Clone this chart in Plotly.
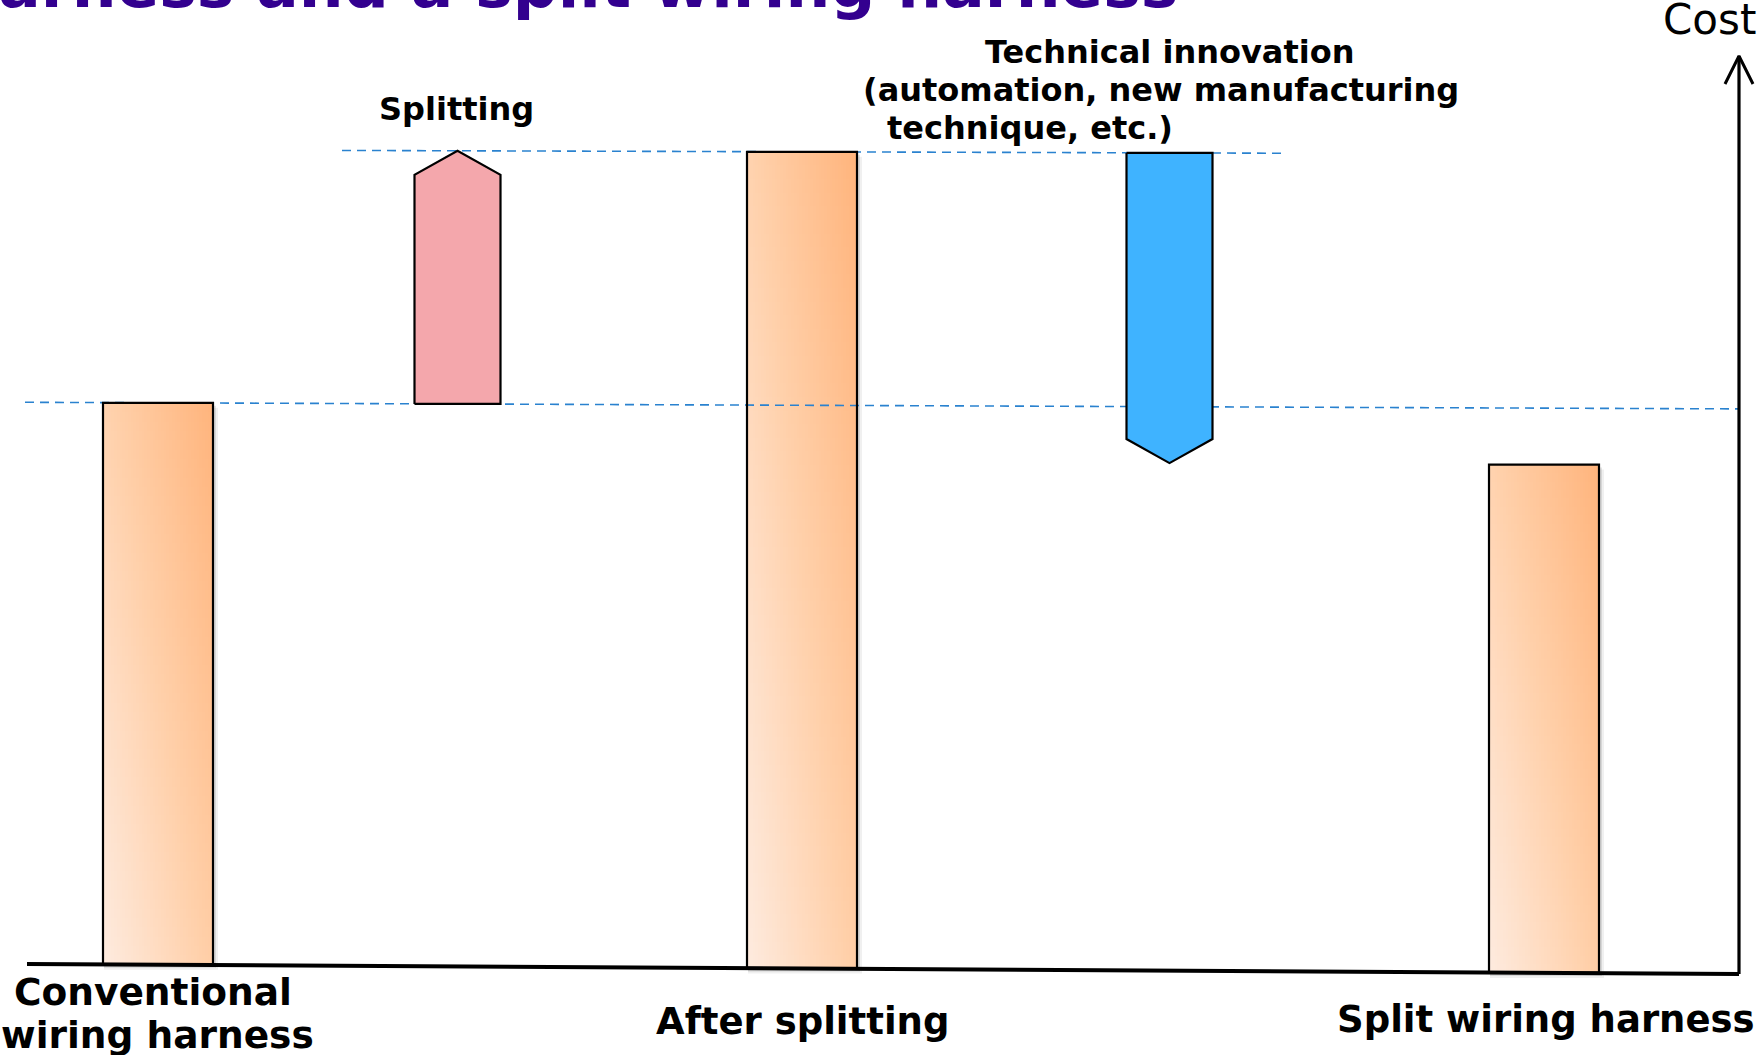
import numpy as np
import plotly.graph_objects as go

# ---------------- data ----------------
stages = ["Conventional wiring harness", "After splitting", "Split wiring harness"]
stage_costs = [100, 145, 90]
changes = ["Splitting", "Technical innovation (automation, new manufacturing technique, etc.)"]
change_values = [45, -55]
change_starts = [100, 145]

# ---------------- layout constants ----------------
W, H = 1759, 1055
PX_PER_UNIT = 5.62
BASE_PX = 964.8          # pixel row of cost 0 at reference x
X_REF = 158.0
stage_x = [158, 802, 1544]
bar_w = 110
change_x = [457.5, 1169.5]
arrow_w = 86
head_px = 24

def slope(v):
    return 0.00584 - 0.0000199 * v

def ty(x, v):
    """plotted y value (slight perspective tilt of the drawing)"""
    return v - (x - X_REF) * slope(v) / PX_PER_UNIT

def px_to_y(py):
    return (BASE_PX - py) / PX_PER_UNIT

y_lo, y_hi = px_to_y(H), px_to_y(0)

fig = go.Figure()

# dashed reference lines
ref_lines = [(100, 25, 1739), (145, 342, 1287)]
for lvl, xa, xb in ref_lines:
    xs = np.array([xa, xb], dtype=float)
    fig.add_trace(go.Scatter(x=xs, y=[ty(x, lvl) for x in xs], mode="lines",
                             line=dict(color="#2A82CF", width=1.6, dash="9px,6px"),
                             hoverinfo="skip", showlegend=False))

# gradient bars
cs = [[0, "#FEEBDF"], [0.5, "#FFD0AA"], [1, "#FFB47C"]]
for xc, cost in zip(stage_x, stage_costs):
    x0, x1 = xc - bar_w / 2, xc + bar_w / 2
    yb, yt = ty(xc, 0), ty(xc, cost)
    # shadow
    for off, a in [(5, 0.06), (3, 0.10)]:
        fig.add_shape(type="rect", x0=x0 + 1, x1=x1 + off, y0=yb - off / PX_PER_UNIT,
                      y1=yt - off / PX_PER_UNIT, line=dict(width=0),
                      fillcolor=f"rgba(0,0,0,{a})", layer="below")
    nx, ny = 40, 60
    xe = np.linspace(x0, x1, nx + 1)
    ye = np.linspace(yb, yt, ny + 1)
    u = (np.arange(nx) + 0.5) / nx
    v = (np.arange(ny) + 0.5) / ny
    z = 0.55 * u[None, :] + 0.45 * v[:, None]
    fig.add_trace(go.Heatmap(x=xe, y=ye, z=z, colorscale=cs, zmin=0, zmax=1,
                             showscale=False, hoverinfo="skip"))
    fig.add_trace(go.Scatter(x=[x0, x1, x1, x0, x0], y=[yb, yb, yt, yt, yb], mode="lines",
                             line=dict(color="black", width=2.2), hoverinfo="skip",
                             showlegend=False))

# change arrows
arrow_cols = ["#F4A7AC", "#3FB3FF"]
h = head_px / PX_PER_UNIT
for xc, s, d, col in zip(change_x, change_starts, change_values, arrow_cols):
    x0, x1 = xc - arrow_w / 2, xc + arrow_w / 2
    e = s + d
    if d > 0:
        pts = [(x0, s), (x1, s), (x1, e - h), (xc, e), (x0, e - h), (x0, s)]
    else:
        pts = [(x0, s), (x1, s), (x1, e + h), (xc, e), (x0, e + h), (x0, s)]
    fig.add_trace(go.Scatter(x=[p[0] for p in pts], y=[ty(xc, p[1]) for p in pts],
                             mode="lines", fill="toself", fillcolor=col,
                             line=dict(color="black", width=2.2), hoverinfo="skip",
                             showlegend=False))

# axes (horizontal base line + vertical cost arrow)
ax_x0, ax_x1 = 27, 1739
fig.add_trace(go.Scatter(x=[ax_x0, ax_x1], y=[ty(ax_x0, 0), ty(ax_x1, 0)], mode="lines",
                         line=dict(color="black", width=4), hoverinfo="skip", showlegend=False))
tip_y = px_to_y(56)
fig.add_trace(go.Scatter(x=[ax_x1, ax_x1], y=[ty(ax_x1, 0), tip_y], mode="lines",
                         line=dict(color="black", width=3.2), hoverinfo="skip", showlegend=False))
fig.add_trace(go.Scatter(x=[ax_x1 - 14, ax_x1, ax_x1 + 14], y=[px_to_y(84), tip_y, px_to_y(84)],
                         mode="lines", line=dict(color="black", width=3), hoverinfo="skip",
                         showlegend=False))

# ---------------- text ----------------
def ann(text, xpx, ypx, size, xanchor="center", yanchor="middle", color="black", bold=True):
    fig.add_annotation(text=f"<b>{text}</b>" if bold else text, xref="paper", yref="paper",
                       x=xpx / W, y=1 - ypx / H, xanchor=xanchor, yanchor=yanchor,
                       showarrow=False, font=dict(family="DejaVu Sans", size=size, color=color))

ann("Cost comparison between a conventional wiring harness and a split wiring harness",
    1180, 24, 63, xanchor="right", yanchor="bottom", color="#33008F")
ann("Cost", 1709, 20, 42, bold=False)
ann(changes[0], 456.6, 109, 32)
ann("Technical innovation", 1169, 52, 32)
ann("(automation, new manufacturing", 1161, 90, 32)
ann("technique, etc.)", 885, 128, 32, xanchor="left")
ann("Conventional", 12, 992, 37.5, xanchor="left")
ann("wiring harness", -1, 1035, 37.5, xanchor="left")
ann(stages[1], 802, 1021, 37)
ann(stages[2], 1546, 1019, 37)

fig.update_layout(width=W, height=H, margin=dict(l=0, r=0, t=0, b=0),
                  paper_bgcolor="white", plot_bgcolor="white", showlegend=False,
                  xaxis=dict(range=[0, W], visible=False, fixedrange=True),
                  yaxis=dict(range=[y_lo, y_hi], visible=False, fixedrange=True))

fig.write_html("out.html", config={"displayModeBar": False},
               post_script="document.body.style.margin='0';document.body.style.overflow='hidden';")
